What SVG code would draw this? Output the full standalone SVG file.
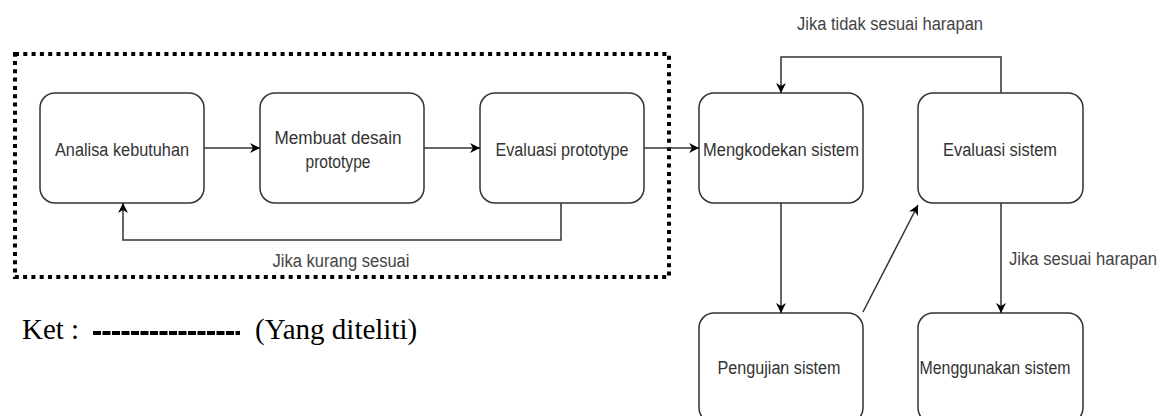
<svg xmlns="http://www.w3.org/2000/svg" width="1171" height="416" viewBox="0 0 1171 416">
  <style>
    .box { fill: #ffffff; stroke: #333333; stroke-width: 1.5; }
    .lbl { font-family: "Liberation Sans", Arial, sans-serif; font-size: 18px; fill: #333333; text-anchor: middle; dominant-baseline: central; }
    .edge { fill: none; stroke: #333333; stroke-width: 1.5; }
    .elbl { font-family: "Liberation Sans", Arial, sans-serif; font-size: 18px; fill: #444444; }
    .ket { font-family: "Liberation Serif", "Times New Roman", serif; font-size: 29px; fill: #000000; }
  </style>
  <defs>
    <marker id="arr" viewBox="0 0 10 10" refX="10" refY="5" markerWidth="10" markerHeight="10" markerUnits="userSpaceOnUse" orient="auto">
      <path d="M0,0 L10,5 L0,10 L3,5 Z" fill="#000000"/>
    </marker>
  </defs>
  <rect width="1171" height="416" fill="#ffffff"/>

  <g id="scope">
    <rect x="15" y="54" width="654" height="223" fill="none" stroke="#000000" stroke-width="4" stroke-dasharray="4 4.3"/>
  </g>

  <g id="n1">
    <rect class="box" x="40" y="93" width="164" height="110" rx="15"/>
    <text class="lbl" x="122" y="150" textLength="134" lengthAdjust="spacingAndGlyphs">Analisa kebutuhan</text>
  </g>
  <g id="n2">
    <rect class="box" x="260" y="93" width="164" height="110" rx="15"/>
    <text class="lbl" x="338" y="138" textLength="127" lengthAdjust="spacingAndGlyphs">Membuat desain</text>
    <text class="lbl" x="338" y="162" textLength="65" lengthAdjust="spacingAndGlyphs">prototype</text>
  </g>
  <g id="n3">
    <rect class="box" x="480" y="93" width="164" height="110" rx="15"/>
    <text class="lbl" x="562" y="150" textLength="133" lengthAdjust="spacingAndGlyphs">Evaluasi prototype</text>
  </g>
  <g id="n4">
    <rect class="box" x="699" y="93" width="164" height="110" rx="15"/>
    <text class="lbl" x="781" y="150" textLength="156" lengthAdjust="spacingAndGlyphs">Mengkodekan sistem</text>
  </g>
  <g id="n5">
    <rect class="box" x="918" y="93" width="165" height="110" rx="15"/>
    <text class="lbl" x="1000" y="150" textLength="114" lengthAdjust="spacingAndGlyphs">Evaluasi sistem</text>
  </g>
  <g id="n6">
    <rect class="box" x="699" y="313" width="164" height="110" rx="15"/>
    <text class="lbl" x="779" y="368" textLength="123" lengthAdjust="spacingAndGlyphs">Pengujian sistem</text>
  </g>
  <g id="n7">
    <rect class="box" x="918" y="313" width="165" height="110" rx="15"/>
    <text class="lbl" x="995" y="368" textLength="151" lengthAdjust="spacingAndGlyphs">Menggunakan sistem</text>
  </g>

  <g id="connectors">
    <path class="edge" d="M204,148 L260,148" marker-end="url(#arr)"/>
    <path class="edge" d="M424,148 L480,148" marker-end="url(#arr)"/>
    <path class="edge" d="M644,148 L699,148" marker-end="url(#arr)"/>
    <path class="edge" d="M561,203 L561,240 L123,240 L123,203" marker-end="url(#arr)"/>
    <text class="elbl" x="341" y="267" text-anchor="middle" textLength="137" lengthAdjust="spacingAndGlyphs">Jika kurang sesuai</text>
    <path class="edge" d="M781,203 L781,313" marker-end="url(#arr)"/>
    <path class="edge" d="M863,312 L918,205" marker-end="url(#arr)"/>
    <path class="edge" d="M1001,203 L1001,313" marker-end="url(#arr)"/>
    <text class="elbl" x="1009" y="265" textLength="148" lengthAdjust="spacingAndGlyphs">Jika sesuai harapan</text>
    <path class="edge" d="M1001,93 L1001,57 L781,57 L781,93" marker-end="url(#arr)"/>
    <text class="elbl" x="890" y="30" text-anchor="middle" textLength="186" lengthAdjust="spacingAndGlyphs">Jika tidak sesuai harapan</text>
  </g>

  <g id="legend">
    <text class="ket" x="22" y="339">Ket :</text>
    <line x1="93" y1="333" x2="240" y2="333" stroke="#000000" stroke-width="4" stroke-dasharray="8 1.5"/>
    <text class="ket" x="255" y="339">(Yang diteliti)</text>
  </g>
</svg>
